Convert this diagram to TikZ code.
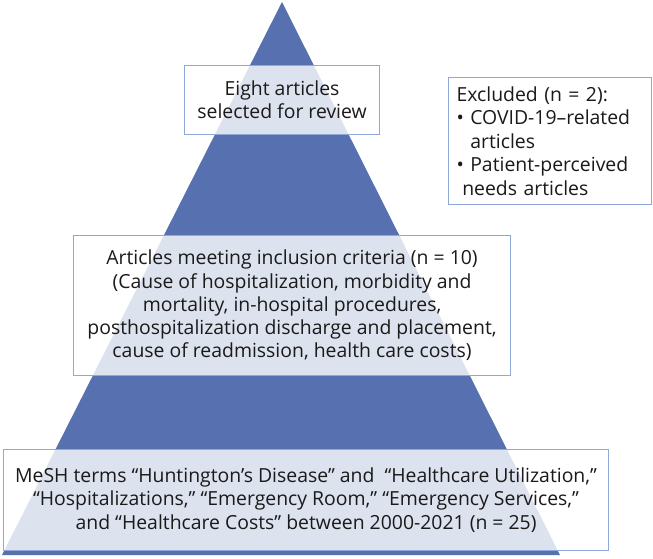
\documentclass[tikz,border=0pt]{standalone}
\usepackage{fontspec}
\setmainfont{Open Sans}
\definecolor{tri}{HTML}{5670B0}
\definecolor{boxline}{HTML}{8FA8DA}
\definecolor{txt}{HTML}{1A1A1A}
\tikzset{
  lvlbox/.style={draw=boxline, line width=1.1pt, fill=white, fill opacity=0.8, text opacity=1,
    text=txt, inner sep=0pt, align=center, anchor=north west,
    font=\fontsize{19.4}{23.3}\selectfont},
}
\begin{document}
\begin{tikzpicture}[x=1pt,y=-1pt]
\useasboundingbox (0,0) rectangle (653,558);
% pyramid
\fill[tri] (282,2) coordinate (apex) -- (560,555) coordinate (br) -- (2,555) coordinate (bl) -- cycle;
% boxes
\node[lvlbox, minimum width=195pt, minimum height=69pt] (top) at (184,65)
  {Eight articles\\selected for review};
\node[lvlbox, minimum width=437pt, minimum height=140pt] (mid) at (73,235)
  {Articles meeting inclusion criteria (n = 10)\\
   (Cause of hospitalization, morbidity and\\
   mortality, in-hospital procedures,\\
   posthospitalization discharge and placement,\\
   cause of readmission, health care costs)};
\node[lvlbox, minimum width=605pt, minimum height=101pt] (bot) at (3,449)
  {MeSH terms “Huntington’s Disease” and \ “Healthcare Utilization,”\\
   “Hospitalizations,” “Emergency Room,” “Emergency Services,”\\
   and “Healthcare Costs” between 2000-2021 (n = 25)};
\node[lvlbox, minimum width=203pt, minimum height=127pt, align=left,
      text width=203pt, font=\fontsize{19.4}{23.5}\selectfont] (excl) at (448,77)
  {\leftskip=8pt
   Excluded (n = 2):\\
   • COVID-19–related\\
   \phantom{• }articles\\
   • Patient-perceived\\
   \phantom{• }needs articles};
\end{tikzpicture}
\end{document}
